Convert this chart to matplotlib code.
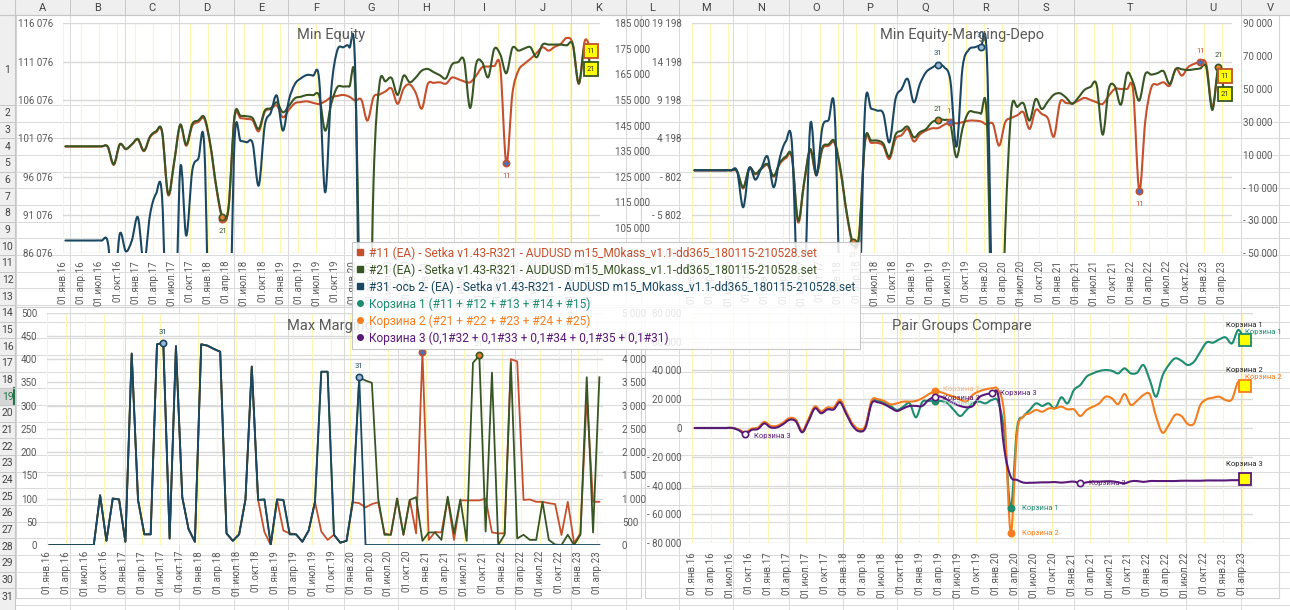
import numpy as np
import matplotlib
matplotlib.use("Agg")
import matplotlib.pyplot as plt
from matplotlib.lines import Line2D
from matplotlib.patches import Rectangle, PathPatch
from matplotlib.path import Path
from matplotlib.ticker import FuncFormatter

plt.rcParams.update({
    "font.family": ["Roboto", "DejaVu Sans"],
    "font.size": 7,
})

W, H = 1290, 610

C11 = "#c4502c"
C21 = "#375623"
C31 = "#1a4862"
CB1 = "#1e8c6e"
CB2 = "#f57d1f"
CB3 = "#5a1978"
GRID = "#d9d9d9"
YGRID = "#fff6b0"
TXT = "#595959"

# ---- Min Equity (monthly, янв.16 .. апр.23) ----
ME_11 = [100000, 100000, 100000, 100000, 100000, 100000, 100000, 99950, 97600, 100250,
         99650, 100250, 100900, 99400, 101200, 101850, 101850, 93700, 97900, 102750,
         100100, 102700, 103200, 103600, 100100, 94500, 90600, 91900, 103700, 103700,
         103600, 103400, 101990, 104500, 104900, 105350, 103820, 104800, 105650, 105800,
         105900, 105700, 105560, 105900, 106430, 106600, 106730, 106500, 106000, 106100,
         103380, 106430, 106780, 107200, 107570, 105570, 107570, 108100, 107000, 104950,
         108160, 108300, 108380, 108200, 109000, 108800, 108500, 108380, 109250, 110340,
         110430, 110500, 110340, 97815, 106860, 109900, 110800, 111430, 112200, 112950,
         112510, 113000, 113380, 114160, 113380, 108160, 113820, 112510]
ME_21 = [100030, 100030, 100030, 100030, 100030, 100030, 100030, 100000, 97700, 100300,
         99700, 100300, 100990, 99470, 101300, 101990, 101990, 93820, 98000, 102860,
         100250, 102950, 103400, 103820, 100250, 94700, 90860, 92080, 104030, 104000,
         103950, 103700, 102300, 104690, 105000, 105770, 104470, 105300, 106300, 106500,
         106730, 106700, 106640, 102080, 105560, 107730, 107820, 107820, 107500, 70000,
         55000, 95000, 108160, 108500, 108940, 106730, 109250, 108380, 109000, 109900,
         110120, 109690, 109300, 108900, 110690, 111000, 111210, 105030, 110780, 111000,
         109040, 112730, 112000, 109560, 112860, 112510, 112800, 112950, 111640, 113300,
         113300, 113300, 113300, 113200, 113300, 108250, 113250, 110120]
ME_31 = [100000, 100000, 100000, 100000, 100000, 100000, 100000, 99500, 79000, 102570,
         95780, 100000, 109100, 91000, 110000, 118220, 117000, 45000, 45000, 128000,
         101900, 127350, 132000, 136480, 40000, 40000, 40000, 40000, 139000, 139000,
         138440, 138000, 121480, 144960, 150000, 156700, 143000, 155000, 161260, 163500,
         164780, 164500, 163200, 118870, 158650, 174300, 175600, 175600, 165000, 0] + [0] * 38

# ---- Min Equity-Marging-Depo ----
MED_11 = [0, 0, 0, 0, 0, 0, 0, -150, -2350, 250,
          -500, 200, 700, -800, 850, 1600, 1600, -6750, -1700, 2600,
          -600, 2800, 3200, 3550, -200, -5700, -9600, -8700, 3700, 3600,
          3600, 3200, 1500, 4100, 4600, 5400, 3790, 4700, 5200, 5500,
          5530, 5970, 6280, 6150, 6300, 6500, 6500, 6400, 5980, 6070,
          3240, 6280, 6850, 7200, 7590, 5420, 7890, 7370, 6800, 4420,
          8890, 8800, 8760, 9100, 9460, 9200, 8900, 8680, 9760, 10630,
          10630, 10630, 10420, -2630, 6500, 10850, 11200, 11500, 11070, 13240,
          12370, 13460, 13900, 14110, 13890, 8240, 13240, 12370]
MED_21 = [50, 50, 50, 50, 50, 50, 50, -100, -2200, 330,
          -400, 300, 850, -700, 1000, 1800, 1800, -6540, -1500, 2800,
          -450, 3000, 3400, 3800, 0, -5500, -9370, -8500, 3980, 3900,
          3900, 3500, 1800, 4675, 5200, 5720, 4330, 5000, 5400, 6300,
          6590, 6600, 6100, 1720, 5500, 7590, 7600, 7400, 6500, -30000,
          -35000, -8000, 7800, 8300, 8760, 6500, 9320, 8020, 9000, 9890,
          10070, 9500, 8690, 9500, 10500, 10900, 11200, 4670, 10630, 11000,
          8590, 12670, 11500, 9110, 12590, 12500, 12700, 12940, 11280, 13240,
          13200, 13100, 13200, 13300, 13460, 7890, 13460, 9980]
MED_31 = [500, 500, 500, 500, 500, 500, 500, 0, -22000, 1940,
          -5160, 2000, 8840, -9830, 8000, 18170, 16550, -80000, -80000, 27710,
          -2700, 26700, 31000, 36430, -90000, -90000, -90000, -90000, 38460, 38000,
          36840, 35000, 17560, 43940, 50000, 56120, 41920, 53000, 60170, 63000,
          64840, 63220, 55100, 14930, 63000, 73800, 75400, 75800, 69300, -100000] + [-100000] * 38

# ---- Max Marging ----
MM_31 = [0, 0, 0, 0, 0, 0, 0, 0, 107, 9,
         100, 98, 7, 412, 97, 23, 23, 432, 435, 14,
         428, 103, 34, 7, 432, 429, 422, 416, 25, 9,
         23, 98, 384, 97, 98, 1, 98, 97, 23, 23,
         7, 31, 93, 373, 373, 22, 5, 9, 97, 361] + [0] * 38
MM_11 = [0, 0, 0, 0, 0, 0, 0, 0, 1070, 90,
         1000, 980, 70, 4120, 970, 230, 230, 4320, 4350, 140,
         4280, 1030, 340, 70, 4320, 4290, 4220, 4160, 250, 90,
         230, 980, 3840, 970, 280, 0, 970, 310, 250, 230,
         70, 310, 930, 290, 110, 220, 50, 90, 920, 900,
         810, 880, 920, 250, 220, 1000, 220, 970, 250, 4160,
         110, 280, 270, 1000, 110, 960, 960, 960, 960, 1000,
         270, 250, 250, 4000, 3950, 970, 980, 930, 930, 900,
         880, 215, 930, 40, 250, 3190, 930, 930]
MM_21 = [0, 0, 0, 0, 0, 0, 0, 0, 1070, 90,
         1000, 980, 70, 4120, 970, 230, 230, 4320, 4350, 140,
         4280, 1030, 340, 70, 4320, 4290, 4220, 4160, 250, 90,
         230, 980, 3840, 970, 980, 10, 980, 970, 230, 230,
         70, 310, 930, 3730, 3730, 220, 50, 90, 970, 3600,
         3540, 3490, 1000, 220, 220, 1000, 220, 970, 1030, 90,
         270, 270, 110, 1040, 250, 980, 90, 3920, 4080, 290,
         3710, 0, 220, 3920, 140, 220, 110, 110, 930, 110,
         10, 0, 220, 0, 220, 3610, 270, 3610]

# ---- Pair Groups Compare ----
PG_1 = [0, 0, 0, 0, 0, 0, 0, -1400, -3500, -900,
        -200, 3700, 900, 900, 3200, 6200, 5100, -2500, 5500, 14300,
        10900, 13600, 13600, 18700, 10200, 2100, -1400, 900, 18300, 19000,
        17600, 15300, 12500, 14800, 17100, 7400, 18000, 18700, 19000, 18700,
        17100, 12500, 8300, 12500, 17100, 18300, 17100, 19400, 18300, -3700,
        -55300, -200, 7900, 12500, 17100, 15300, 17100, 13600, 21300, 17100,
        26400, 29800, 35600, 37900, 39500, 40200, 39700, 37900, 41400, 37900,
        38400, 43700, 33300, 21700, 36100, 43700, 48300, 46700, 43700, 46000,
        52900, 59400, 59200, 61500, 62900, 58700, 68000, 61000]
PG_2 = [0, 0, 0, 0, 0, 0, 0, -1200, -3000, -500,
        300, 4300, 1500, 1500, 3800, 6900, 5800, -2000, 6200, 15000,
        11600, 14300, 14300, 19600, 11000, 2800, -700, 1600, 19200, 19900,
        18600, 16400, 17100, 18300, 18300, 18800, 20600, 23400, 25500, 24800,
        23100, 21900, 19600, 18500, 23100, 25400, 26800, 27500, 26400, 7900,
        -72600, -3700, 7900, 10200, 12500, 11300, 13600, 13600, 14800, 12900,
        12900, 8300, 12500, 14800, 17100, 21700, 20600, 16600, 23600, 16000,
        19000, 22900, 23300, 7900, -3200, 2100, 9000, 8300, 2800, 3200,
        16000, 19900, 21000, 21700, 19400, 19900, 32100, 29400]
PG_3 = [0, 0, 0, 0, 0, 0, 0, -1600, -4400, -1300,
        -700, 3200, 400, 400, 2700, 5700, 4600, -3000, 4800, 13600,
        10200, 12900, 12900, 17800, 9500, 1400, -2300, 0, 17100, 17800,
        16400, 14000, 11800, 13600, 15300, 15300, 15300, 19400, 21700, 21700,
        19400, 17100, 15300, 14400, 15300, 21300, 23300, 24000, 22900, -15300,
        -33800, -36000, -37900, -38000, -37900, -37700, -37700, -37500, -37900, -37500,
        -37200, -38400, -37700, -37200, -37200, -37000, -37000, -37700, -38400, -37000,
        -36800, -37400, -36800, -36800, -36800, -36800, -36800, -36600, -36600, -36600,
        -36600, -36400, -36400, -36400, -36400, -36200, -36200, -35600]

MONTHS = ["янв", "апр", "июл", "окт"]
YEARS = [16, 17, 18, 19, 20, 21, 22, 23]
XLABELS = [f"01.{MONTHS[i % 4]}.{YEARS[i // 4]}" for i in range(30)]

BASKETS = ["Корзина 1", "Корзина 2", "Корзина 3"]
LEGEND_LABELS = [
    "#11 (EA) - Setka v1.43-R321 - AUDUSD m15_M0kass_v1.1-dd365_180115-210528.set",
    "#21 (EA) - Setka v1.43-R321 - AUDUSD m15_M0kass_v1.1-dd365_180115-210528.set",
    "#31 -ось 2- (EA) - Setka v1.43-R321 - AUDUSD m15_M0kass_v1.1-dd365_180115-210528.set",
    "Корзина 1 (#11 + #12 + #13 + #14 + #15)",
    "Корзина 2 (#21 + #22 + #23 + #24 + #25)",
    "Корзина 3 (0,1#32 + 0,1#33 + 0,1#34 + 0,1#35 + 0,1#31)",
]

COL_NAMES = list("ABCDEFGHIJKLMNOPQRSTUV")
COL_EDGES = [15, 70, 124.5, 179, 234.4, 288, 343.6, 398, 453.5, 514.5, 570.5, 625.7,
             679.4, 733, 788.5, 843, 897, 953, 1017.6, 1073.6, 1185.6, 1240.8, 1300]
ROW_EDGES = [15] + [105 + 16.667 * i for i in range(32)]

X = np.arange(88) + 0.45
QTR = np.arange(0, 88, 3)


def sp(v, pos=None):
    s = f"{abs(int(round(v))):,}".replace(",", " ")
    return "- " + s if v < 0 else s


fig = plt.figure(figsize=(W / 100, H / 100), dpi=100)

# ---------- spreadsheet background ----------
bg = fig.add_axes([0, 0, 1, 1])
bg.set_xlim(0, W); bg.set_ylim(H, 0); bg.axis("off")
for x in COL_EDGES:
    bg.plot([x, x], [15, H], color="#dadada", lw=0.7)
for y in ROW_EDGES:
    bg.plot([15, W], [y, y], color="#dadada", lw=0.7)
bg.add_patch(Rectangle((0, 0), W, 15, fc="#efefef", ec="none"))
bg.add_patch(Rectangle((0, 0), 15, H, fc="#efefef", ec="none"))
bg.add_patch(Rectangle((0, ROW_EDGES[18]), 15, ROW_EDGES[19] - ROW_EDGES[18], fc="#d6d6d6", ec="none"))
bg.plot([14, 14], [ROW_EDGES[18], ROW_EDGES[19]], color="#217346", lw=1.5)
bg.plot([0, W], [15, 15], color="#c6c6c6", lw=0.8)
bg.plot([15, 15], [0, H], color="#c6c6c6", lw=0.8)
for i, name in enumerate(COL_NAMES):
    a, b = COL_EDGES[i], COL_EDGES[i + 1]
    bg.plot([a, a], [0, 15], color="#c6c6c6", lw=0.7)
    bg.text((a + b) / 2, 8, name, ha="center", va="center", fontsize=8, color="#444")
for i in range(31):
    a, b = ROW_EDGES[i], ROW_EDGES[i + 1]
    bg.plot([0, 15], [a, a], color="#c6c6c6", lw=0.7)
    yc = 70 if i == 0 else (a + b) / 2
    bg.text(7.5, yc, str(i + 1), ha="center", va="center", fontsize=7.5,
            color="#217346" if i == 18 else "#444")
for (x0, y0, x1, y1) in [(16, 15, 641, 307), (641, 15, 1279, 307),
                         (16, 307, 641, 598), (645, 307, 1279, 598)]:
    bg.add_patch(Rectangle((x0, y0), x1 - x0, y1 - y0, fc="white", ec="#d4d4d4", lw=0.8))


def px_axes(x0, y0, x1, y1):
    return fig.add_axes([x0 / W, 1 - y1 / H, (x1 - x0) / W, (y1 - y0) / H])


def style(ax, xr, ylim, yticks, lpad, xpad):
    ax.set_xlim(0, xr)
    ax.set_ylim(*ylim)
    ax.set_yticks(yticks)
    ax.yaxis.set_major_formatter(FuncFormatter(sp))
    ax.set_xticks(QTR)
    ax.set_xticklabels(XLABELS, rotation=90)
    ax.grid(axis="y", color=GRID, lw=1.0)
    ax.grid(axis="x", color=YGRID, lw=0.8)
    ax.set_axisbelow(True)
    for s in ax.spines.values():
        s.set_visible(False)
    ax.tick_params(length=0, labelcolor=TXT, labelsize=7)
    ax.tick_params(axis="y", pad=lpad)
    ax.tick_params(axis="x", pad=xpad)
    ax.patch.set_alpha(0)


def twin(ax, ylim, yticks, pad):
    a2 = ax.twinx()
    a2.set_ylim(*ylim)
    a2.set_yticks(yticks)
    a2.yaxis.set_major_formatter(FuncFormatter(sp))
    for s in a2.spines.values():
        s.set_visible(False)
    a2.tick_params(length=0, labelcolor=TXT, labelsize=7, pad=pad)
    return a2


def smooth(ax, y, color, lw=1.5):
    # Excel-style "smoothed line": cubic Bezier segments through every data point
    x = X
    y = np.asarray(y, float)
    n = len(x)
    verts = [(x[0], y[0])]
    codes = [Path.MOVETO]
    for i in range(n - 1):
        a = max(i - 1, 0)
        d = min(i + 2, n - 1)
        c1 = (x[i] + (x[i + 1] - x[a]) / 6, y[i] + (y[i + 1] - y[a]) / 6)
        c2 = (x[i + 1] - (x[d] - x[i]) / 6, y[i + 1] - (y[d] - y[i]) / 6)
        verts += [c1, c2, (x[i + 1], y[i + 1])]
        codes += [Path.CURVE4] * 3
    ax.add_patch(PathPatch(Path(verts, codes), fill=False, edgecolor=color, lw=lw,
                           capstyle="round", joinstyle="round"))


def dot(ax, k, y, face, edge, text=None, tcolor=None, dy=0, dx=0, ha="center", ms=4.5, fs=5.5):
    ax.plot([X[k]], [y], "o", ms=ms, mfc=face, mec=edge, mew=1.2, zorder=6, clip_on=False)
    if text:
        ax.annotate(text, (X[k], y), xytext=(dx, dy), textcoords="offset points",
                    ha=ha, va="center", fontsize=fs, color=tcolor, zorder=7)


def ybox(ax, k, y, edge, text=None, ms=9.5):
    ax.plot([X[k]], [y], "s", ms=ms, mfc="#ffff00", mec=edge, mew=1.3, zorder=6, clip_on=False)
    if text:
        ax.text(X[k], y, text, ha="center", va="center", fontsize=5.5, color="#333",
                zorder=7, clip_on=False)


def ftitle(x, y, s):
    fig.text(x / W, 1 - y / H, s, ha="center", va="center", fontsize=10.5, color=TXT)


# ---------- 1: Min Equity ----------
ax1 = px_axes(62.7, 23.3, 600, 253.3)
style(ax1, (600 - 62.7) / 6.04, (86076, 116076), np.arange(86076, 116077, 5000), 7, 4.8)
smooth(ax1, ME_11, C11)
smooth(ax1, ME_21, C21)
ax1b = twin(ax1, (95000, 185000), np.arange(95000, 185001, 10000), 10.8)
smooth(ax1b, ME_31, C31)
dot(ax1, 26, ME_11[26], "#ed7d31", C11)
dot(ax1, 26, ME_21[26], "#ed7d31", C21, "21", C21, dy=-10)
dot(ax1, 73, ME_11[73], "#4472c4", C11, "11", C11, dy=-9.5)
ybox(ax1, 87, ME_11[87], C11, "11")
ybox(ax1, 87, ME_21[87], C21, "21")
ftitle(331, 35, "Min Equity")

# ---------- 2: Min Equity-Marging-Depo ----------
ax2 = px_axes(691.7, 23.3, 1232, 253.3)
style(ax2, (1232 - 691.7) / 6.093, (-10802, 19198), np.arange(-10802, 19199, 5000), 7.2, 4.8)
smooth(ax2, MED_11, C11)
smooth(ax2, MED_21, C21)
ax2b = twin(ax2, (-50000, 90000), np.arange(-50000, 90001, 20000), 8)
smooth(ax2b, MED_31, C31)
dot(ax2, 26, MED_21[26], "#ed7d31", C21, "21", C21, dy=-9)
dot(ax2, 40, MED_21[40], "#ed7d31", C21, "21", C21, dy=8)
dot(ax2, 42, MED_11[42], "#4472c4", C11, "11", C11, dy=8)
dot(ax2, 73, MED_11[73], "#4472c4", C11, "11", C11, dy=-9.5)
dot(ax2, 83, MED_11[83], "#4472c4", C11, "11", C11, dy=8.5)
dot(ax2, 86, MED_21[86], "#ed7d31", C21, "21", C21, dy=8.5)
dot(ax2b, 40, MED_31[40], "#9dbbd8", C31, "31", C31, dy=8.5)
dot(ax2b, 47, MED_31[47], "#9dbbd8", C31, "31", C31, dy=8.5)
ybox(ax2, 87, MED_11[87], C11, "11")
ybox(ax2, 87, MED_21[87], C21, "21")
ftitle(962, 35, "Min Equity-Marging-Depo")

# ---------- 3: Max Marging (straight segments) ----------
ax3 = px_axes(46.7, 312.7, 603, 545)
style(ax3, (603 - 46.7) / 6.32, (0, 5000), np.arange(0, 5001, 500), 13.5, 3.6)
ax3.plot(X, MM_11, color=C11, lw=1.3)
ax3.plot(X, MM_21, color=C21, lw=1.3)
ax3b = twin(ax3, (0, 500), np.arange(0, 501, 50), 6.8)
ax3.yaxis.tick_right()
ax3.tick_params(axis="y", length=0, pad=13.5)
ax3b.yaxis.tick_left()
ax3b.tick_params(axis="y", length=0, pad=6.8)
ax3b.plot(X, MM_31, color=C31, lw=1.3)
dot(ax3b, 18, MM_31[18], "#9dbbd8", C31, "31", C31, dy=8)
dot(ax3b, 49, MM_31[49], "#9dbbd8", C31, "31", C31, dy=8)
dot(ax3, 59, MM_11[59], "#4472c4", C11, "11", C11, dy=8)
dot(ax3, 68, MM_21[68], "#ed7d31", C21, "21", C21, dy=8)
ftitle(330, 326, "Max Marging")

# ---------- 4: Pair Groups Compare ----------
ax4 = px_axes(691.9, 312.7, 1253.3, 543.3)
style(ax4, (1253.3 - 691.9) / 6.32, (-80000, 80000), np.arange(-80000, 80001, 20000), 7.5, 6)
smooth(ax4, PG_1, CB1)
smooth(ax4, PG_2, CB2)
smooth(ax4, PG_3, CB3)
dot(ax4, 8, PG_3[8], "white", CB3, BASKETS[2], CB3, dx=6, dy=-1.5, ha="left")
dot(ax4, 38, PG_1[38], CB1, CB1, BASKETS[0], "#9fd3c2", dx=6, dy=-2, ha="left")
dot(ax4, 38, PG_2[38], CB2, CB2, BASKETS[1], "#f9b98a", dx=6, dy=1.5, ha="left")
dot(ax4, 38, PG_3[38], "white", CB3, BASKETS[2], CB3, dx=6, dy=-1, ha="left")
dot(ax4, 47, PG_3[47], "white", CB3, BASKETS[2], CB3, dx=6, ha="left")
dot(ax4, 50, PG_1[50], CB1, CB1, BASKETS[0], CB1, dx=8, ha="left")
dot(ax4, 50, PG_2[50], CB2, CB2, BASKETS[1], CB2, dx=8, ha="left")
dot(ax4, 61, PG_3[61], "white", CB3, BASKETS[2], CB3, dx=6, ha="left")
for series, col, name, colored in [(PG_1, CB1, BASKETS[0], True),
                                   (PG_2, CB2, BASKETS[1], True),
                                   (PG_3, CB3, BASKETS[2], False)]:
    ybox(ax4, 87, series[87], col, ms=8.5)
    ax4.annotate(name, (X[87], series[87]), xytext=(0, 11), textcoords="offset points",
                 ha="center", va="center", fontsize=5.5, color="#222", zorder=7)
    if colored:
        ax4.annotate(name, (X[87], series[87]), xytext=(0, 6), textcoords="offset points",
                     ha="left", va="center", fontsize=5.5, color=col, zorder=7)
ftitle(962, 326, "Pair Groups Compare")

# ---------- legend ----------
handles = [Line2D([], [], ls="none", marker="s", ms=5, mfc=c, mec=c) for c in (C11, C21, C31)]
handles += [Line2D([], [], ls="none", marker="o", ms=4, mfc=c, mec=c) for c in (CB1, CB2, CB3)]
leg = fig.legend(handles, LEGEND_LABELS, loc="upper left", bbox_to_anchor=(352 / W, 1 - 242 / H),
                 fontsize=8.6, labelcolor=[C11, C21, C31, CB1, CB2, CB3], frameon=True,
                 fancybox=False, edgecolor="#bfbfbf", framealpha=0.85, handlelength=0.7,
                 handletextpad=0.4, borderpad=0.35, labelspacing=0.3, borderaxespad=0)
leg.get_frame().set_linewidth(0.8)

fig.savefig("out.png", dpi=100)
